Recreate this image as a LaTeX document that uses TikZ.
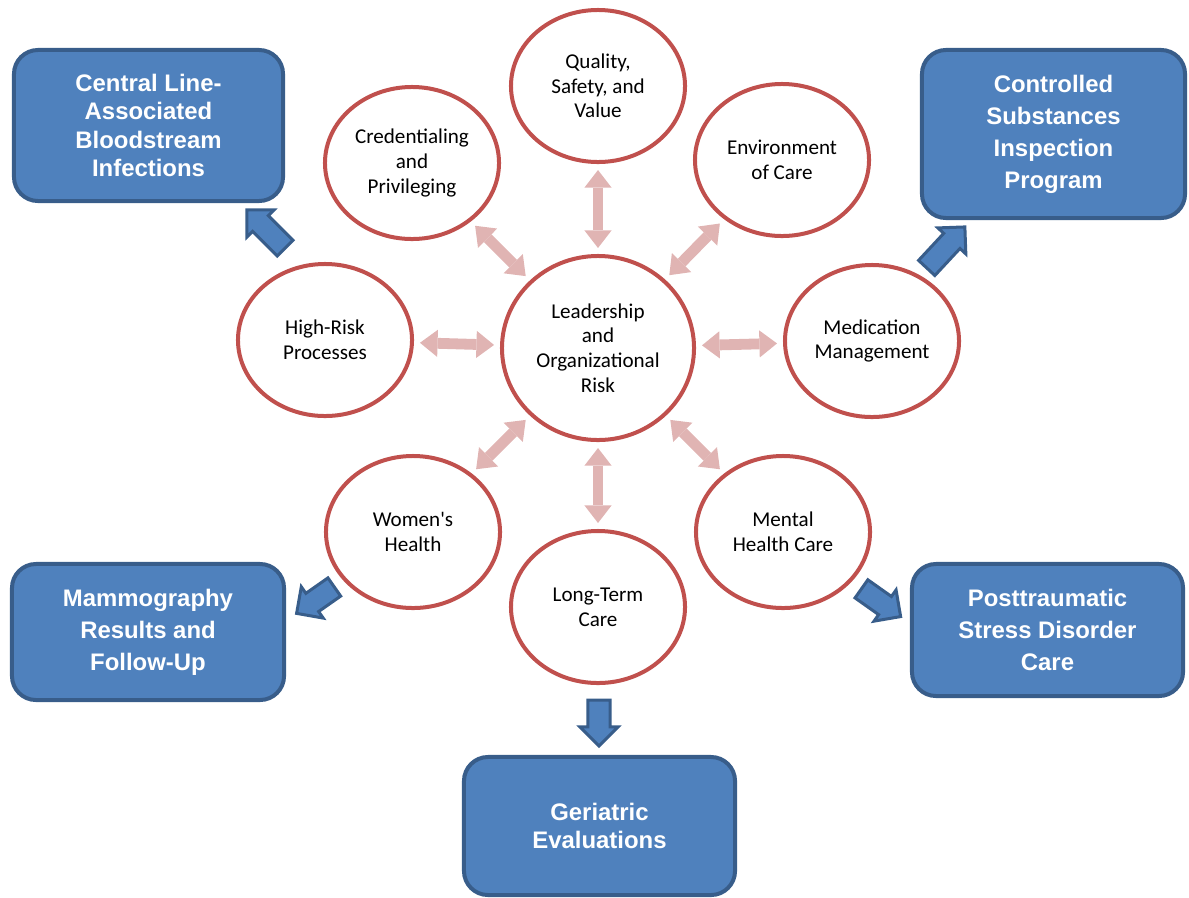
\documentclass[tikz,border=0pt]{standalone}
\usepackage{fontspec}
\setmainfont{Carlito}
\newfontfamily\headfont{Liberation Sans}
\usetikzlibrary{shapes.geometric,shapes.arrows,arrows.meta}
\definecolor{ringred}{RGB}{192,80,77}
\definecolor{linkpink}{RGB}{224,180,179}
\definecolor{boxblue}{RGB}{79,129,189}
\definecolor{boxedge}{RGB}{56,93,138}

\begin{document}
\begin{tikzpicture}[x=0.025cm,y=-0.025cm,
  topic/.style={ellipse,draw=ringred,line width=0.1cm,fill=white,
    minimum width=4.35cm,minimum height=3.8cm,inner sep=0pt,align=center,
    font=\fontsize{15}{17.5}\selectfont},
  core/.style={topic,minimum width=4.8cm,minimum height=4.6cm},
  finding/.style={rectangle,rounded corners=0.6cm,draw=boxedge,fill=boxblue,
    line width=0.1cm,text=white,align=center,
    font=\headfont\bfseries\fontsize{17}{22.7}\selectfont},
  link/.style={<->,>={Triangle[width=0.68cm,length=0.44cm,line width=0pt]},
    draw=linkpink,line width=0.27cm,shorten >=0.15cm,shorten <=0.15cm},
  push/.style={single arrow,draw=boxedge,fill=boxblue,line width=0.075cm,
    minimum height=#1,single arrow head extend=0.2cm,
    inner xsep=0pt,inner ysep=0.24cm},
  push/.default=1.2cm]

  \useasboundingbox (0,0) rectangle (1189,897);

  % centre and the eight topics
  \node[core] (LOR) at (598,348) {Leadership\\and\\Organizational\\Risk};
  \node[topic] (QSV) at (598,86) {Quality,\\Safety, and\\Value};
  \node[topic] (CAP) at (412,163) {Credentialing\\and\\Privileging};
  \node[topic] (EOC) at (782,160) {Environment\\of Care};
  \node[topic] (HRP) at (325,340) {High-Risk\\Processes};
  \node[topic] (MED) at (872,341) {Medication\\Management};
  \node[topic] (WH) at (413,532) {Women\textquotesingle s\\Health};
  \node[topic] (MHC) at (783,532) {Mental\\Health Care};
  \node[topic] (LTC) at (598,607) {Long-Term\\Care};

  % review boxes
  \node[finding,minimum width=6.725cm,minimum height=3.775cm,
    font=\headfont\bfseries\fontsize{17}{20}\selectfont]
    (CLB) at (148.5,125.5) {Central Line-\\Associated\\Bloodstream\\Infections};
  \node[finding,minimum width=6.575cm,minimum height=4.2cm]
    (CSI) at (1053.5,134) {Controlled\\Substances\\Inspection\\Program};
  \node[finding,minimum width=6.8cm,minimum height=3.4cm]
    (MRF) at (148,632) {Mammography\\Results and\\Follow-Up};
  \node[finding,minimum width=6.775cm,minimum height=3.3cm]
    (PTS) at (1047.5,630) {Posttraumatic\\Stress Disorder\\Care};
  \node[finding,minimum width=6.775cm,minimum height=3.45cm,
    font=\headfont\bfseries\fontsize{17}{20}\selectfont]
    (GER) at (599.5,826) {Geriatric\\Evaluations};

  \path
    (LOR) edge[link] (QSV)
    (LOR) edge[link] (CAP)
    (LOR) edge[link] (EOC)
    (LOR) edge[link] (HRP)
    (LOR) edge[link] (MED)
    (LOR) edge[link] (WH)
    (LOR) edge[link] (MHC)
    (LOR) edge[link] (LTC);

  % block arrows out to the boxes
  \coordinate (CLt) at (290,253);  \coordinate (CLh) at (250,213);
  \coordinate (CSt) at (922,273);  \coordinate (CSh) at (962,230);
  \coordinate (MRt) at (340,583);  \coordinate (MRh) at (300,611);
  \coordinate (PTt) at (856,585);  \coordinate (PTh) at (897,614);
  \coordinate (GEt) at (599,693);  \coordinate (GEh) at (599,742);

  \path (CLt) -- (CLh) node[midway,sloped,allow upside down,push=1.35cm] {};
  \path (CSt) -- (CSh) node[midway,sloped,allow upside down,push=1.4cm] {};
  \path (MRt) -- (MRh) node[midway,sloped,allow upside down,push=1.15cm] {};
  \path (PTt) -- (PTh) node[midway,sloped,allow upside down,push=1.2cm] {};
  \path (GEt) -- (GEh) node[midway,sloped,allow upside down,push=1.15cm] {};
\end{tikzpicture}
\end{document}
